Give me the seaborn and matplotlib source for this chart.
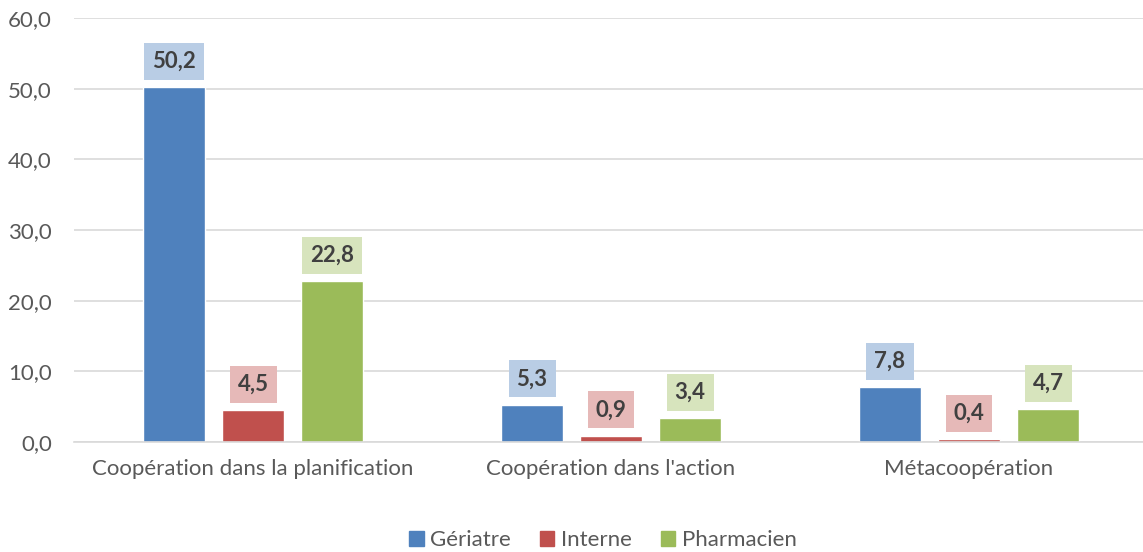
import pandas as pd
import seaborn as sns
import matplotlib.pyplot as plt

# données
categories = ["Coopération dans la planification", "Coopération dans l'action", "Métacoopération"]
groupes = ["Gériatre", "Interne", "Pharmacien"]
geriatre = [50.2, 5.3, 7.8]
interne = [4.5, 0.9, 0.4]
pharmacien = [22.8, 3.4, 4.7]

couleurs = ["#4F81BD", "#C0504D", "#9BBB59"]
couleurs_box = ["#B9CDE5", "#E6B9B8", "#D7E4BD"]

df = pd.DataFrame({
    "categorie": categories * 3,
    "groupe": [g for g in groupes for _ in categories],
    "valeur": geriatre + interne + pharmacien,
})

sns.set_style("white")
plt.rcParams['font.family'] = ['Lato', 'DejaVu Sans']

fig = plt.figure(figsize=(11.43, 5.52), dpi=100)
ax = fig.add_axes([74 / 1143, 110 / 552, (1143 - 74) / 1143, (442 - 18) / 552])

sns.barplot(data=df, x="categorie", y="valeur", hue="groupe", palette=couleurs,
            width=0.662, gap=0.215, saturation=1, ax=ax, legend=False)

ax.set_xlim(-0.5, 2.486)
ax.set_ylim(0, 60)
ax.set_yticks(range(0, 61, 10))
ax.set_yticklabels([f"{v},0" for v in range(0, 61, 10)])
ax.yaxis.grid(True, color="#D9D9D9", linewidth=1.2)
ax.set_axisbelow(True)
for s in ["left", "right", "top"]:
    ax.spines[s].set_visible(False)
ax.spines["bottom"].set_color("#D9D9D9")
ax.spines["bottom"].set_linewidth(1.2)
ax.tick_params(axis="both", length=0, labelsize=16, colors="#595959", pad=16)
ax.tick_params(axis="x", pad=12)
ax.set_xlabel("")
ax.set_ylabel("")

for cont, cb in zip(ax.containers, couleurs_box):
    labels = [f"{b.get_height():.1f}".replace(".", ",") for b in cont]
    ax.bar_label(cont, labels=labels, padding=11, fontsize=16, fontweight="bold",
                 color="#404040",
                 bbox=dict(boxstyle="square,pad=0.36", facecolor=cb, edgecolor="none"))

handles = [plt.Rectangle((0, 0), 1, 1, color=c) for c in couleurs]
fig.legend(handles, groupes, loc="center", bbox_to_anchor=(603 / 1143, 1 - 540 / 552),
           ncol=3, frameon=False, fontsize=16, handlelength=0.65, handleheight=0.65,
           handletextpad=0.3, columnspacing=1.3, labelcolor="#595959")

fig.savefig("out.png", dpi=100)
